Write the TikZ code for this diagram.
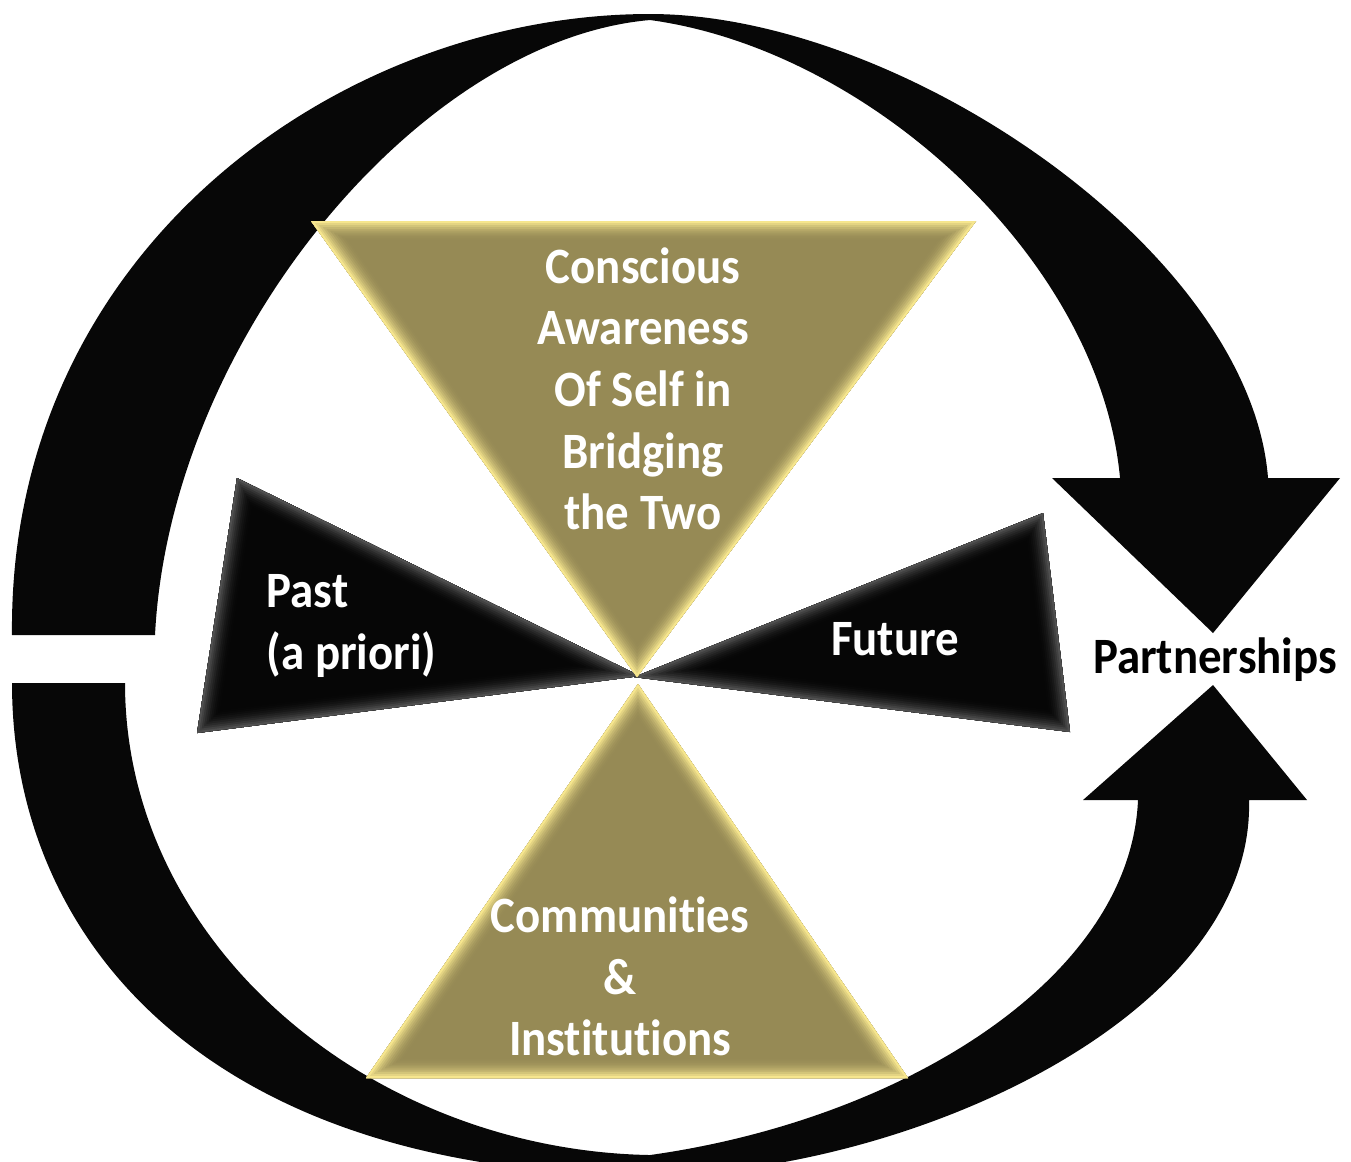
\documentclass[tikz,border=0pt]{standalone}
\usepackage{fontspec}
\setmainfont{Carlito}[FakeStretch=0.92, Ligatures=NoCommon]
\definecolor{arcblack}{RGB}{7,7,7}
\definecolor{olivefill}{RGB}{150,138,85}
\definecolor{goldrim}{RGB}{246,230,142}
\definecolor{coalfill}{RGB}{6,6,6}
\definecolor{greyrim}{RGB}{80,80,80}
% bevelled triangle: corners #1 #2 #3, face #4, rim #5
\newcommand{\bevtri}[5]{%
  \fill[#4] #1 -- #2 -- #3 -- cycle;
  \begin{scope}
    \clip #1 -- #2 -- #3 -- cycle;
    \foreach \i in {1,...,10}
      \draw[line width=(11-\i)*1.1pt, #5!\the\numexpr\i*\i\relax!#4] #1 -- #2 -- #3 -- cycle;
  \end{scope}}

\begin{document}
\begin{tikzpicture}[x=0.1mm, y=-0.1mm,
 lbl/.style={font=\bfseries\fontsize{14.5}{17.5}\selectfont, text=white, inner sep=0pt, align=center}]
\useasboundingbox (0,0) rectangle (1351,1161);
\clip (0,0) rectangle (1351,1161);

% upper arc with the head pointing down
\fill[arcblack] (12,635) .. controls (8,250) and (340,14) .. (650,14)
  .. controls (900,14) and (1250,250) .. (1268,478)
  -- (1340,478) -- (1213,633) -- (1052,478) -- (1120,478)
  .. controls (1100,260) and (870,50) .. (650,20)
  .. controls (420,40) and (170,340) .. (155,635) -- cycle;

% lower arc with the head pointing up
\fill[arcblack] (12,683) .. controls (12,950) and (220,1175) .. (650,1175)
  .. controls (900,1175) and (1255,1020) .. (1249,800)
  -- (1307,800) -- (1213,685) -- (1083,800) -- (1138,800)
  .. controls (1130,980) and (900,1120) .. (650,1155)
  .. controls (370,1150) and (125,944) .. (125,683) -- cycle;

% past and future wedges
\bevtri{(237,478)}{(197,733)}{(640,676)}{coalfill}{greyrim}
\bevtri{(1043,513)}{(1070,732)}{(634,677)}{coalfill}{greyrim}

% self and community wedges
\bevtri{(311,221)}{(976,221)}{(637,677)}{olivefill}{goldrim}
\bevtri{(638,684)}{(908,1078)}{(366,1078)}{olivefill}{goldrim}

\node[lbl, anchor=north] (self) at (643,247) {Conscious\\Awareness\\Of Self in\\Bridging\\the Two};
\node[lbl, anchor=north west, align=left] (past) at (266,574) {Past\\(a priori)};
\node[lbl, anchor=base] (future) at (895,655) {Future};
\node[lbl, anchor=north] (comm) at (620,896) {Communities\\\&\\Institutions};
\node[lbl, anchor=base, text=black] (partner) at (1215,673) {Partnerships};
\end{tikzpicture}
\end{document}
